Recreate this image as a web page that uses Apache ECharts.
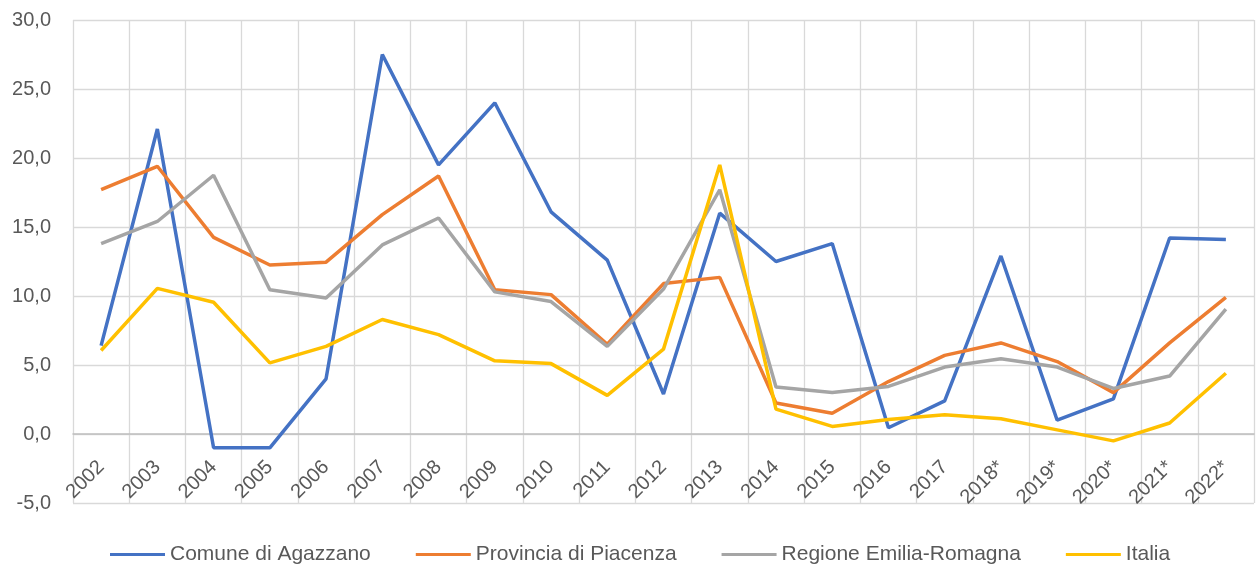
<!DOCTYPE html>
<html>
<head>
<meta charset="utf-8">
<script src="https://cdn.jsdelivr.net/npm/echarts@6/dist/echarts.min.js"></script>
<style>
html,body{margin:0;padding:0;background:#fff;}
#chart{width:1256px;height:570px;}
</style>
</head>
<body>
<div id="chart"></div>
<script>
const categories = ['2002','2003','2004','2005','2006','2007','2008','2009','2010','2011','2012','2013','2014','2015','2016','2017','2018*','2019*','2020*','2021*','2022*'];
const comune = [6.4, 22.1, -1.0, -1.0, 4.0, 27.5, 19.5, 24.0, 16.1, 12.6, 2.9, 16.0, 12.5, 13.8, 0.45, 2.4, 12.9, 1.0, 2.55, 14.2, 14.1];
const provincia = [17.7, 19.4, 14.25, 12.25, 12.45, 15.9, 18.7, 10.45, 10.1, 6.5, 10.9, 11.35, 2.25, 1.5, 3.8, 5.7, 6.6, 5.25, 3.0, 6.6, 9.9];
const regione = [13.8, 15.4, 18.75, 10.45, 9.85, 13.7, 15.65, 10.3, 9.6, 6.35, 10.5, 17.7, 3.4, 3.0, 3.45, 4.85, 5.45, 4.85, 3.3, 4.2, 9.05];
const italia = [6.05, 10.55, 9.55, 5.15, 6.35, 8.3, 7.2, 5.3, 5.1, 2.8, 6.15, 19.5, 1.8, 0.55, 1.05, 1.4, 1.1, 0.3, -0.5, 0.8, 4.4];
const seriesNames = ['Comune di Agazzano', 'Provincia di Piacenza', 'Regione Emilia-Romagna', 'Italia'];
const seriesColors = ['#4472C4', '#ED7D31', '#A5A5A5', '#FFC000'];
const seriesData = [comune, provincia, regione, italia];

const chart = echarts.init(document.getElementById('chart'), null, {renderer: 'canvas'});
const FONT = 'Liberation Sans, Arial, sans-serif';
chart.setOption({
  animation: false,
  backgroundColor: '#ffffff',
  textStyle: {fontFamily: FONT},
  grid: {left: 73, right: 2, top: 20, bottom: 67, containLabel: false},
  legend: {
    bottom: 0,
    left: 105,
    icon: 'rect',
    itemWidth: 55,
    itemHeight: 3,
    itemGap: 45,
    textStyle: {fontSize: 21, color: '#595959', fontFamily: FONT},
    data: seriesNames
  },
  xAxis: {
    type: 'category',
    data: categories,
    boundaryGap: true,
    position: 'bottom',
    offset: -69,
    axisLine: {show: true, onZero: false, lineStyle: {color: '#BFBFBF', width: 1.5}},
    axisTick: {show: false},
    axisLabel: {rotate: 45, fontSize: 20, color: '#595959', margin: 30, interval: 0, fontFamily: FONT},
    splitLine: {show: true, interval: 0, lineStyle: {color: '#D9D9D9', width: 1.3}}
  },
  yAxis: {
    type: 'value',
    min: -5,
    max: 30,
    interval: 5,
    axisLine: {show: false},
    axisTick: {show: false},
    axisLabel: {fontSize: 20, color: '#595959', margin: 22, fontFamily: FONT,
      formatter: v => v.toFixed(1).replace('.', ',')},
    splitLine: {show: true, lineStyle: {color: '#D9D9D9', width: 1.3}}
  },
  series: seriesNames.map((n, i) => ({
    name: n,
    type: 'line',
    data: seriesData[i],
    symbol: 'none',
    smooth: false,
    color: seriesColors[i],
    lineStyle: {width: 3.5, color: seriesColors[i]}
  }))
});
</script>
</body>
</html>
